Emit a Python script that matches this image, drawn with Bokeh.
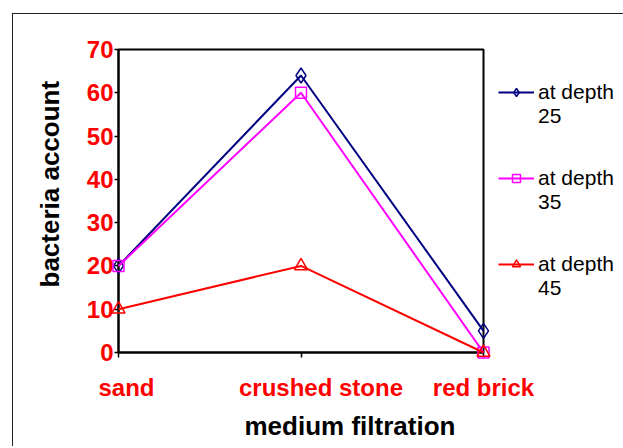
from bokeh.plotting import figure
from bokeh.models import Range1d, Legend, LegendItem, Title, FixedTicker
from bokeh.embed import file_html
from bokeh.resources import INLINE

# ---- data ----
categories = ["sand", "crushed stone", "red brick"]
depth25 = [20, 64, 5]
depth35 = [20, 60, 0]
depth45 = [10, 20, 0]
series_labels = ["\nat depth\n25", "\nat depth\n35", "\nat depth\n45"]
y_ticks = [0, 10, 20, 30, 40, 50, 60, 70]
x_title = "medium filtration"
y_title = "bacteria account"

# ---- styles ----
FONT = "Liberation Sans"
colors = ["#000080", "#FF00FF", "#FF0000"]
markers = ["diamond", "square", "triangle"]
marker_sizes = [15, 11, 13]
xlab_offsets_px = [8, 20, 0]
FRAME_W, FRAME_H = 365, 303

xs = list(range(len(categories)))
px_per_x = FRAME_W / (xs[-1] - xs[0])
label_pos = [min(x + off / px_per_x, xs[-1]) for x, off in zip(xs, xlab_offsets_px)]

p = figure(frame_width=FRAME_W, frame_height=FRAME_H, output_backend="svg",
           toolbar_location=None, title=None,
           x_range=Range1d(xs[0], xs[-1]), y_range=Range1d(y_ticks[0], y_ticks[-1]),
           min_border_left=104, min_border_right=139, min_border_top=35, min_border_bottom=94)
p.margin = (13, 0, 0, 12)
p.styles = {"border-left": "1px solid #222", "border-top": "1px solid #222"}

p.xgrid.visible = False
p.ygrid.visible = False
p.outline_line_color = "black"
p.outline_line_width = 2
p.background_fill_color = "white"
p.border_fill_color = "white"

# y axis
p.yaxis.ticker = FixedTicker(ticks=y_ticks)
p.yaxis.minor_tick_line_color = None
p.yaxis.axis_line_width = 2
p.yaxis.axis_line_color = "black"
p.yaxis.major_tick_out = 4
p.yaxis.major_tick_in = 0
p.yaxis.major_tick_line_width = 1.5
p.yaxis.major_label_standoff = 1
p.yaxis.major_label_text_font = FONT
p.yaxis.major_label_text_font_size = "24px"
p.yaxis.major_label_text_font_style = "bold"
p.yaxis.major_label_text_color = "#FF0000"

# x axis: tick marks at categories (minor ticks), labels slightly to the right (major ticks)
p.xaxis.ticker = FixedTicker(ticks=label_pos, minor_ticks=xs)
p.xaxis.axis_line_width = 2
p.xaxis.axis_line_color = "black"
p.xaxis.major_tick_line_color = None
p.xaxis.major_tick_out = 0
p.xaxis.major_tick_in = 0
p.xaxis.minor_tick_line_color = "black"
p.xaxis.minor_tick_line_width = 1.5
p.xaxis.minor_tick_out = 5
p.xaxis.minor_tick_in = 0
p.xaxis.major_label_overrides = {pos: cat for pos, cat in zip(label_pos, categories)}
p.xaxis.major_label_standoff = 16
p.xaxis.major_label_text_font = FONT
p.xaxis.major_label_text_font_size = "24px"
p.xaxis.major_label_text_font_style = "bold"
p.xaxis.major_label_text_color = "#FF0000"

# series
legend_items = []
for ys, col, mk, ms, lab in zip([depth25, depth35, depth45], colors, markers,
                                marker_sizes, series_labels):
    lr = p.line(xs, ys, line_color=col, line_width=2, level="overlay")
    sr = p.scatter(xs, ys, marker=mk, size=ms, fill_color=None, line_color=col,
                   line_width=1.5, level="overlay")
    legend_items.append(LegendItem(label=lab, renderers=[lr, sr]))

legend = Legend(items=legend_items, location=(15, 52), orientation="vertical",
                glyph_width=36, glyph_height=20, label_standoff=4, spacing=14,
                padding=0, margin=0, border_line_color=None, background_fill_color=None,
                label_text_font=FONT, label_text_font_size="21px", label_text_color="black")
p.add_layout(legend, "right")

# axis titles
p.add_layout(Title(text=x_title, align="left", offset=126, standoff=10,
                   text_font=FONT, text_font_size="26px", text_font_style="bold",
                   text_color="black"), "below")
p.add_layout(Title(text=y_title, align="left", offset=65, standoff=38,
                   text_font=FONT, text_font_size="26px", text_font_style="bold",
                   text_color="black"), "left")

open("out.html", "w").write(file_html(p, INLINE))
